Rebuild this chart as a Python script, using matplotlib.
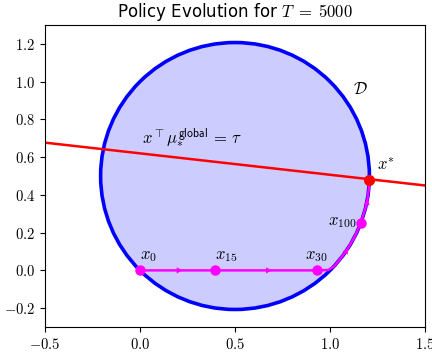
"""
    Policy evolution on the disc D for T = 5000
"""
import numpy as np
import matplotlib
matplotlib.use("Agg")
import matplotlib.pyplot as plt
from matplotlib.patches import Circle
from matplotlib.ticker import FuncFormatter

plt.rcParams['mathtext.fontset'] = 'cm'

# disc D
center = (0.5, 0.5)
radius = 0.7071

# constraint line x^T mu = tau
mu_global = [0.1135, 1.0]
tau = 0.62
x_star = (1.207, 0.48)

# iterates
path_x = [0.0, 0.395, 0.93, 0.99, 1.02, 1.05, 1.093, 1.13, 1.162, 1.185, 1.196, 1.203, 1.207]
path_y = [0.0, 0.0, 0.0, 0.002, 0.02, 0.056, 0.115, 0.179, 0.251, 0.325, 0.373, 0.424, 0.48]
arrow_at = [(0.22, 0.0, 1.0, 0.0), (0.69, 0.0, 1.0, 0.0),
            (1.093, 0.115, 0.6, 1.0), (1.196, 0.373, 0.1, 1.0)]
marked = {"$x_{0}$": (0.0, 0.0), "$x_{15}$": (0.395, 0.0),
          "$x_{30}$": (0.93, 0.0), "$x_{100}$": (1.162, 0.251)}

fig = plt.figure(figsize=(4.32, 3.52), dpi=100)
ax = fig.add_axes([0.104, 0.071, 0.880, 0.858])

ax.add_patch(Circle(center, radius, facecolor=(0.8, 0.8, 1.0), edgecolor='blue', lw=2.6, zorder=1))

xs = np.array([-0.5, 1.5])
ax.plot(xs, (tau - mu_global[0] * xs) / mu_global[1], color='red', lw=1.8, zorder=2)

ax.plot(path_x, path_y, color='magenta', lw=1.8, zorder=3)
for (ax_x, ax_y, dx, dy) in arrow_at:
    d = np.array([dx, dy]) / np.hypot(dx, dy) * 0.02
    ax.annotate('', xy=(ax_x + d[0], ax_y + d[1]), xytext=(ax_x - d[0], ax_y - d[1]),
                arrowprops=dict(arrowstyle='-|>', color='magenta', lw=0, mutation_scale=11), zorder=4)

for lab, (px, py) in marked.items():
    ax.plot(px, py, 'o', color='magenta', ms=6.5, zorder=5)
ax.plot(*x_star, 'o', color='red', ms=7, zorder=6)

ax.text(0.0, 0.035, "$x_{0}$", fontsize=12, ha='left', va='bottom')
ax.text(0.395, 0.035, "$x_{15}$", fontsize=12, ha='left', va='bottom')
ax.text(0.87, 0.035, "$x_{30}$", fontsize=12, ha='left', va='bottom')
ax.text(1.14, 0.26, "$x_{100}$", fontsize=12, ha='right', va='center')
ax.text(1.245, 0.56, "$x^{*}$", fontsize=12, ha='left', va='center')
ax.text(1.12, 0.96, r"$\mathcal{D}$", fontsize=12, ha='left', va='center')
ax.text(0.01, 0.70, r"$x^{\top}\mu_{*}^{\mathsf{global}}\,=\,\tau$", fontsize=12, ha='left', va='center')

ax.set_xlim(-0.5, 1.5)
ax.set_ylim(-0.3, 1.3)
ax.set_xticks([-0.5, 0.0, 0.5, 1.0, 1.5])
ax.set_yticks([-0.2, 0.0, 0.2, 0.4, 0.6, 0.8, 1.0, 1.2])
fmt = FuncFormatter(lambda v, p: "$%.1f$" % v)
ax.xaxis.set_major_formatter(fmt)
ax.yaxis.set_major_formatter(fmt)
ax.tick_params(labelsize=10.5)
ax.set_title(r"Policy Evolution for $T\;=\;5000$", fontsize=12)

fig.savefig("out.png")
